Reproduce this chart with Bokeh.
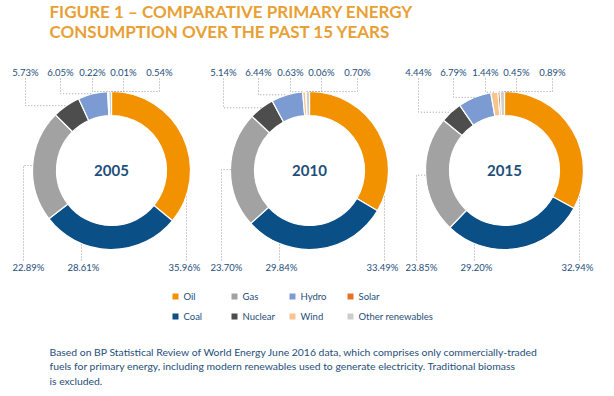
import math
from bokeh.plotting import figure
from bokeh.models import Range1d
from bokeh.core.properties import value
from bokeh.embed import file_html
from bokeh.resources import INLINE

# ---------------- data ----------------
years = ["2005", "2010", "2015"]
sources = ["Oil", "Coal", "Gas", "Nuclear", "Hydro", "Wind", "Solar", "Other renewables"]
share_2005 = [35.96, 28.61, 22.89, 5.73, 6.05, 0.22, 0.01, 0.54]
share_2010 = [33.49, 29.84, 23.70, 5.14, 6.44, 0.63, 0.06, 0.70]
share_2015 = [32.94, 29.20, 23.85, 4.44, 6.79, 1.44, 0.45, 0.89]
shares = [share_2005, share_2010, share_2015]
title_lines = ["FIGURE 1 \u2013 COMPARATIVE PRIMARY ENERGY", "CONSUMPTION OVER THE PAST 15 YEARS"]
note_lines = [
    "Based on BP Statistical Review of World Energy June 2016 data, which comprises only commercially-traded",
    "fuels for primary energy, including modern renewables used to generate electricity. Traditional biomass",
    "is excluded.",
]

# ---------------- style / layout ----------------
colors = ["#F39200", "#0B4F87", "#A2A2A2", "#4D4D4D", "#7B9BD2", "#F6C48F", "#E57324", "#CDCDCD"]
TXT = "#1E4E7A"
TITLE_C = "#E8A034"
FONT = "Lato"
cxs = [111, 309, 504]
CY = 170
R_OUT, R_IN = 79, 55
# label x positions (top: Nuclear, Hydro, Wind, Solar, Other; bottom: Gas, Coal, Oil)
top_idx = [3, 4, 5, 6, 7]
top_dx = [-86, -51, -19, 12, 48]
bot_idx = [2, 1, 0]
bot_dx = [-83, -28, 73]
bot_line_dx = [-88, -30, 75]
TOP_Y, BOT_Y = 72, 267

W, H = 598, 390
p = figure(width=W, height=H, output_backend="svg", toolbar_location=None,
           x_range=Range1d(0, W), y_range=Range1d(-H, 0),
           min_border=0)
p.axis.visible = False
p.grid.visible = False
p.outline_line_color = None
p.background_fill_color = "white"
p.border_fill_color = "white"


def Y(py):
    return -py


def ring_point(cx, frac):
    ang = math.pi / 2 - 2 * math.pi * frac
    return cx + R_OUT * math.cos(ang), CY - R_OUT * math.sin(ang)


for k, (yr, vals) in enumerate(zip(years, shares)):
    cx = cxs[k]
    total = sum(vals)
    cum = [0.0]
    for v in vals:
        cum.append(cum[-1] + v / total)
    starts = [math.pi / 2 - 2 * math.pi * cum[i + 1] for i in range(len(vals))]
    ends = [math.pi / 2 - 2 * math.pi * cum[i] for i in range(len(vals))]
    p.annular_wedge(x=[cx] * len(vals), y=[Y(CY)] * len(vals), inner_radius=R_IN, outer_radius=R_OUT,
                    start_angle=starts, end_angle=ends, direction="anticlock",
                    fill_color=colors, line_color="white", line_width=1.2)
    p.text(x=[cx], y=[Y(CY)], text=[yr], text_font=value(FONT), text_font_size="15px",
           text_font_style="bold", text_color=TXT, text_align="center", text_baseline="middle")

    # top labels with dotted leaders
    for i, dx in zip(top_idx, top_dx):
        lx = cx + dx
        mid = (cum[i] + cum[i + 1]) / 2
        ax, ay = ring_point(cx, mid)
        p.line(x=[lx, lx, ax], y=[Y(TOP_Y + 6), Y(ay), Y(ay)], line_color="#9A9A9A",
               line_dash="1 2", line_width=1)
        p.text(x=[lx], y=[Y(TOP_Y)], text=["%.2f%%" % vals[i]], text_font=value(FONT),
               text_font_size="9.5px", text_color=TXT, text_align="center", text_baseline="middle")

    # bottom labels
    for i, dx, ldx in zip(bot_idx, bot_dx, bot_line_dx):
        lx = cx + dx
        llx = cx + ldx
        if abs(ldx) < R_OUT - 1:
            ay = CY + math.sqrt(R_OUT ** 2 - ldx ** 2)
            p.line(x=[llx, llx], y=[Y(BOT_Y - 7), Y(ay)], line_color="#9A9A9A",
                   line_dash="1 2", line_width=1)
        else:
            mid = (cum[i] + cum[i + 1]) / 2
            ax, ay = ring_point(cx, mid)
            p.line(x=[llx, llx, ax], y=[Y(BOT_Y - 7), Y(ay), Y(ay)], line_color="#9A9A9A",
                   line_dash="1 2", line_width=1)
        p.text(x=[lx], y=[Y(BOT_Y)], text=["%.2f%%" % vals[i]], text_font=value(FONT),
               text_font_size="9.5px", text_color=TXT, text_align="center", text_baseline="middle")

# title
for j, t in enumerate(title_lines):
    p.text(x=[49], y=[Y(11 + 20 * j)], text=[t], text_font=value(FONT), text_font_size="17px",
           text_font_style="bold", text_color=TITLE_C, text_align="left", text_baseline="middle")

# legend
leg_order = ["Oil", "Gas", "Hydro", "Solar", "Coal", "Nuclear", "Wind", "Other renewables"]
leg_x = [175, 234, 292, 350]
leg_y = [296, 316]
for n, name in enumerate(leg_order):
    col = n % 4
    row = n // 4
    c = colors[sources.index(name)]
    x0 = leg_x[col]
    y0 = leg_y[row]
    p.scatter(x=[x0], y=[Y(y0)], marker="square", size=6, fill_color=c, line_color=None)
    p.text(x=[x0 + 8], y=[Y(y0)], text=[name], text_font=value(FONT), text_font_size="9.5px",
           text_color=TXT, text_align="left", text_baseline="middle")

# footnote
for j, t in enumerate(note_lines):
    p.text(x=[49], y=[Y(351 + 14.5 * j)], text=[t], text_font=value(FONT), text_font_size="10.4px",
           text_color=TXT, text_align="left", text_baseline="middle")

open("out.html", "w").write(file_html(p, INLINE))
